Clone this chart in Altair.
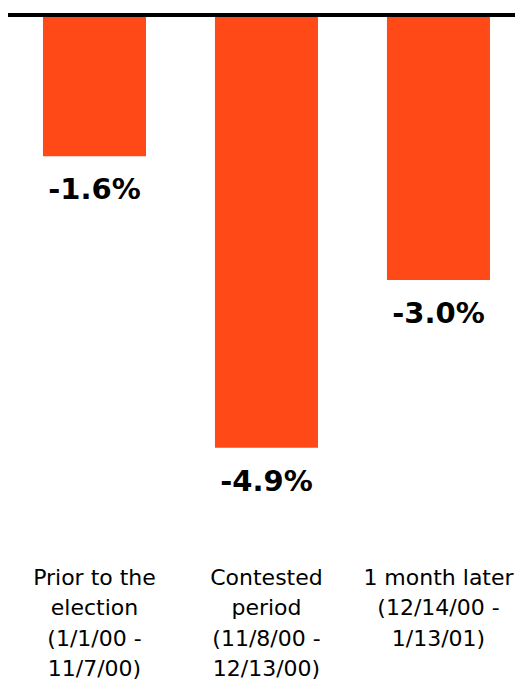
import altair as alt
import pandas as pd

categories = ["Prior to the|election|(1/1/00 -|11/7/00)",
              "Contested|period|(11/8/00 -|12/13/00)",
              "1 month later|(12/14/00 -|1/13/01)"]
values = [-1.6, -4.9, -3.0]
value_labels = ["-1.6%", "-4.9%", "-3.0%"]

df = pd.DataFrame({"cat": categories, "val": values, "lab": value_labels})

x = alt.X("cat:N", sort=categories, title=None,
          scale=alt.Scale(paddingInner=0.401, paddingOuter=0.1744, align=0.583),
          axis=alt.Axis(orient="bottom", domain=False, ticks=False, labelAngle=0,
                        labelExpr="split(datum.label, '|')",
                        labelFont="DejaVu Sans", labelFontSize=22, labelColor="#000000",
                        labelLineHeight=30.5, labelPadding=22, labelBaseline="top",
                        labelAlign="center", labelLimit=200))
y = alt.Y("val:Q", title=None, scale=alt.Scale(domain=[-6, 0], nice=False),
          axis=None)

bars = alt.Chart(df).mark_bar(color="#FF4A17").encode(x=x, y=y)
text = alt.Chart(df).mark_text(font="DejaVu Sans", fontWeight="bold", fontSize=29,
                               baseline="middle", dy=34, color="#000000").encode(
    x=alt.X("cat:N", sort=categories), y="val:Q", text="lab:N")
rule = alt.Chart(pd.DataFrame({"z": [0]})).mark_rule(color="#000000", strokeWidth=4).encode(
    y="z:Q")

chart = alt.layer(bars, text, rule).properties(
    width=507, height=530,
    autosize=alt.AutoSizeParams(type="none"),
    padding={"left": 0, "top": 7, "right": 0, "bottom": 137},
).configure_view(stroke=None)

chart.save("out.html", embed_options={"renderer": "svg", "actions": False})
